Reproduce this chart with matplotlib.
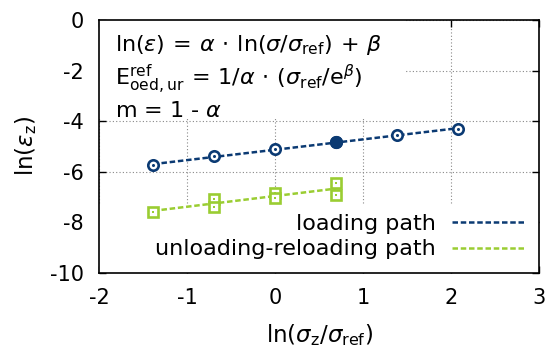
import numpy as np
import matplotlib
matplotlib.use("Agg")
import matplotlib.pyplot as plt
from matplotlib.patches import Rectangle
from matplotlib.lines import Line2D

plt.rcParams['font.family'] = ['DejaVu Sans']
plt.rcParams['mathtext.fontset'] = 'dejavusans'
plt.rcParams['axes.unicode_minus'] = False
plt.rcParams['font.size'] = 15

# data: ln(sigma_z / sigma_ref) and ln(eps_z)
loading_x = [-1.386, -0.693, 0.0, 0.693, 1.386, 2.079]
loading_y = [-5.75, -5.38, -5.12, -4.83, -4.56, -4.31]
unloading_x = [-1.386, -0.693, -0.693, 0.0, 0.0, 0.693, 0.693]
unloading_y = [-7.61, -7.07, -7.39, -6.83, -7.04, -6.46, -6.94]
filled_loading_index = 3

x_ticks = [-2, -1, 0, 1, 2, 3]
y_ticks = [0, -2, -4, -6, -8, -10]
labels = ["loading path", "unloading-reloading path"]

blue = '#0b3a73'
green = '#9acd32'

fig = plt.figure(figsize=(5.53, 3.55), dpi=100)
ax = fig.add_axes([99.3/553, (355-272.7)/355, (539-99.3)/553, (272.7-20)/355])
ax.set_xlim(-2, 3)
ax.set_ylim(-10, 0)
ax.set_xticks(x_ticks)
ax.set_yticks(y_ticks)
ax.tick_params(direction='in', length=5, width=1.0, top=True, right=True, pad=11, labelsize=15)
for s in ax.spines.values():
    s.set_linewidth(1.2)
ax.grid(True, linestyle=(0, (1, 2)), color='#888888', linewidth=0.8, zorder=0)
ax.set_axisbelow(True)

# white covers for text box and legend area
ax.add_patch(Rectangle((0, 0.612), 0.695, 0.388, transform=ax.transAxes,
                       facecolor='white', edgecolor='none', zorder=1))
ax.add_patch(Rectangle((0, 0), 1, 0.268, transform=ax.transAxes,
                       facecolor='white', edgecolor='none', zorder=1))

dash = (0, (2.2, 1.1))
for xs, ys, col in [(loading_x, loading_y, blue), (unloading_x, unloading_y, green)]:
    xs = np.asarray(xs); ys = np.asarray(ys)
    k, b = np.polyfit(xs, ys, 1)
    xl = np.array([xs.min(), xs.max()])
    ax.plot(xl, k*xl + b, color=col, lw=1.8, linestyle=dash, zorder=3)

lx = np.asarray(loading_x); ly = np.asarray(loading_y)
ax.plot(lx, ly, linestyle='none', marker='o', ms=7.5, mfc='white', mec=blue, mew=1.9, zorder=4)
ax.plot(lx, ly, linestyle='none', marker='o', ms=2.2, mfc=blue, mec=blue, mew=0, zorder=5)
ax.plot(lx[filled_loading_index], ly[filled_loading_index], linestyle='none', marker='o', ms=8.5,
        mfc=blue, mec=blue, zorder=6)

ux = np.asarray(unloading_x); uy = np.asarray(unloading_y)
ax.plot(ux, uy, linestyle='none', marker='s', ms=7.5, mfc='white', mec=green, mew=1.9, zorder=4)
ax.plot(ux, uy, linestyle='none', marker='s', ms=2.0, mfc=green, mec=green, mew=0, zorder=5)

handles = [Line2D([], [], color=blue, lw=1.8, linestyle=dash),
           Line2D([], [], color=green, lw=1.8, linestyle=dash)]
leg = ax.legend(handles, labels, loc='lower right', frameon=False, markerfirst=False,
                handlelength=3.3, handletextpad=0.75, labelspacing=0.25,
                borderaxespad=0.3, borderpad=0.3, fontsize=16)
leg.set_zorder(7)

tx = (115-99.3)/(539-99.3)
ax.text(tx, 0.90, r'$\mathrm{ln}(\epsilon)\,=\,\alpha\,\cdot\,\mathrm{ln}(\sigma/\sigma_{\mathrm{ref}})\,+\,\beta$',
        transform=ax.transAxes, va='center', ha='left', zorder=8, fontsize=16)
ax.text(tx, 0.765, r'$\mathrm{E}^{\mathrm{ref}}_{\mathrm{oed,ur}}\,=\,1/\alpha\,\cdot\,(\sigma_{\mathrm{ref}}/\mathrm{e}^{\beta})$',
        transform=ax.transAxes, va='center', ha='left', zorder=8, fontsize=16)
ax.text(tx, 0.64, r'm = 1 - $\alpha$',
        transform=ax.transAxes, va='center', ha='left', zorder=8, fontsize=16)

ax.set_xlabel(r'$\mathrm{ln}(\sigma_{\mathrm{z}}/\sigma_{\mathrm{ref}})$', labelpad=10, fontsize=16.5)
ax.set_ylabel(r'$\mathrm{ln}(\epsilon_{\mathrm{z}})$', labelpad=8, fontsize=16.5)

fig.savefig('out.png', dpi=100)
